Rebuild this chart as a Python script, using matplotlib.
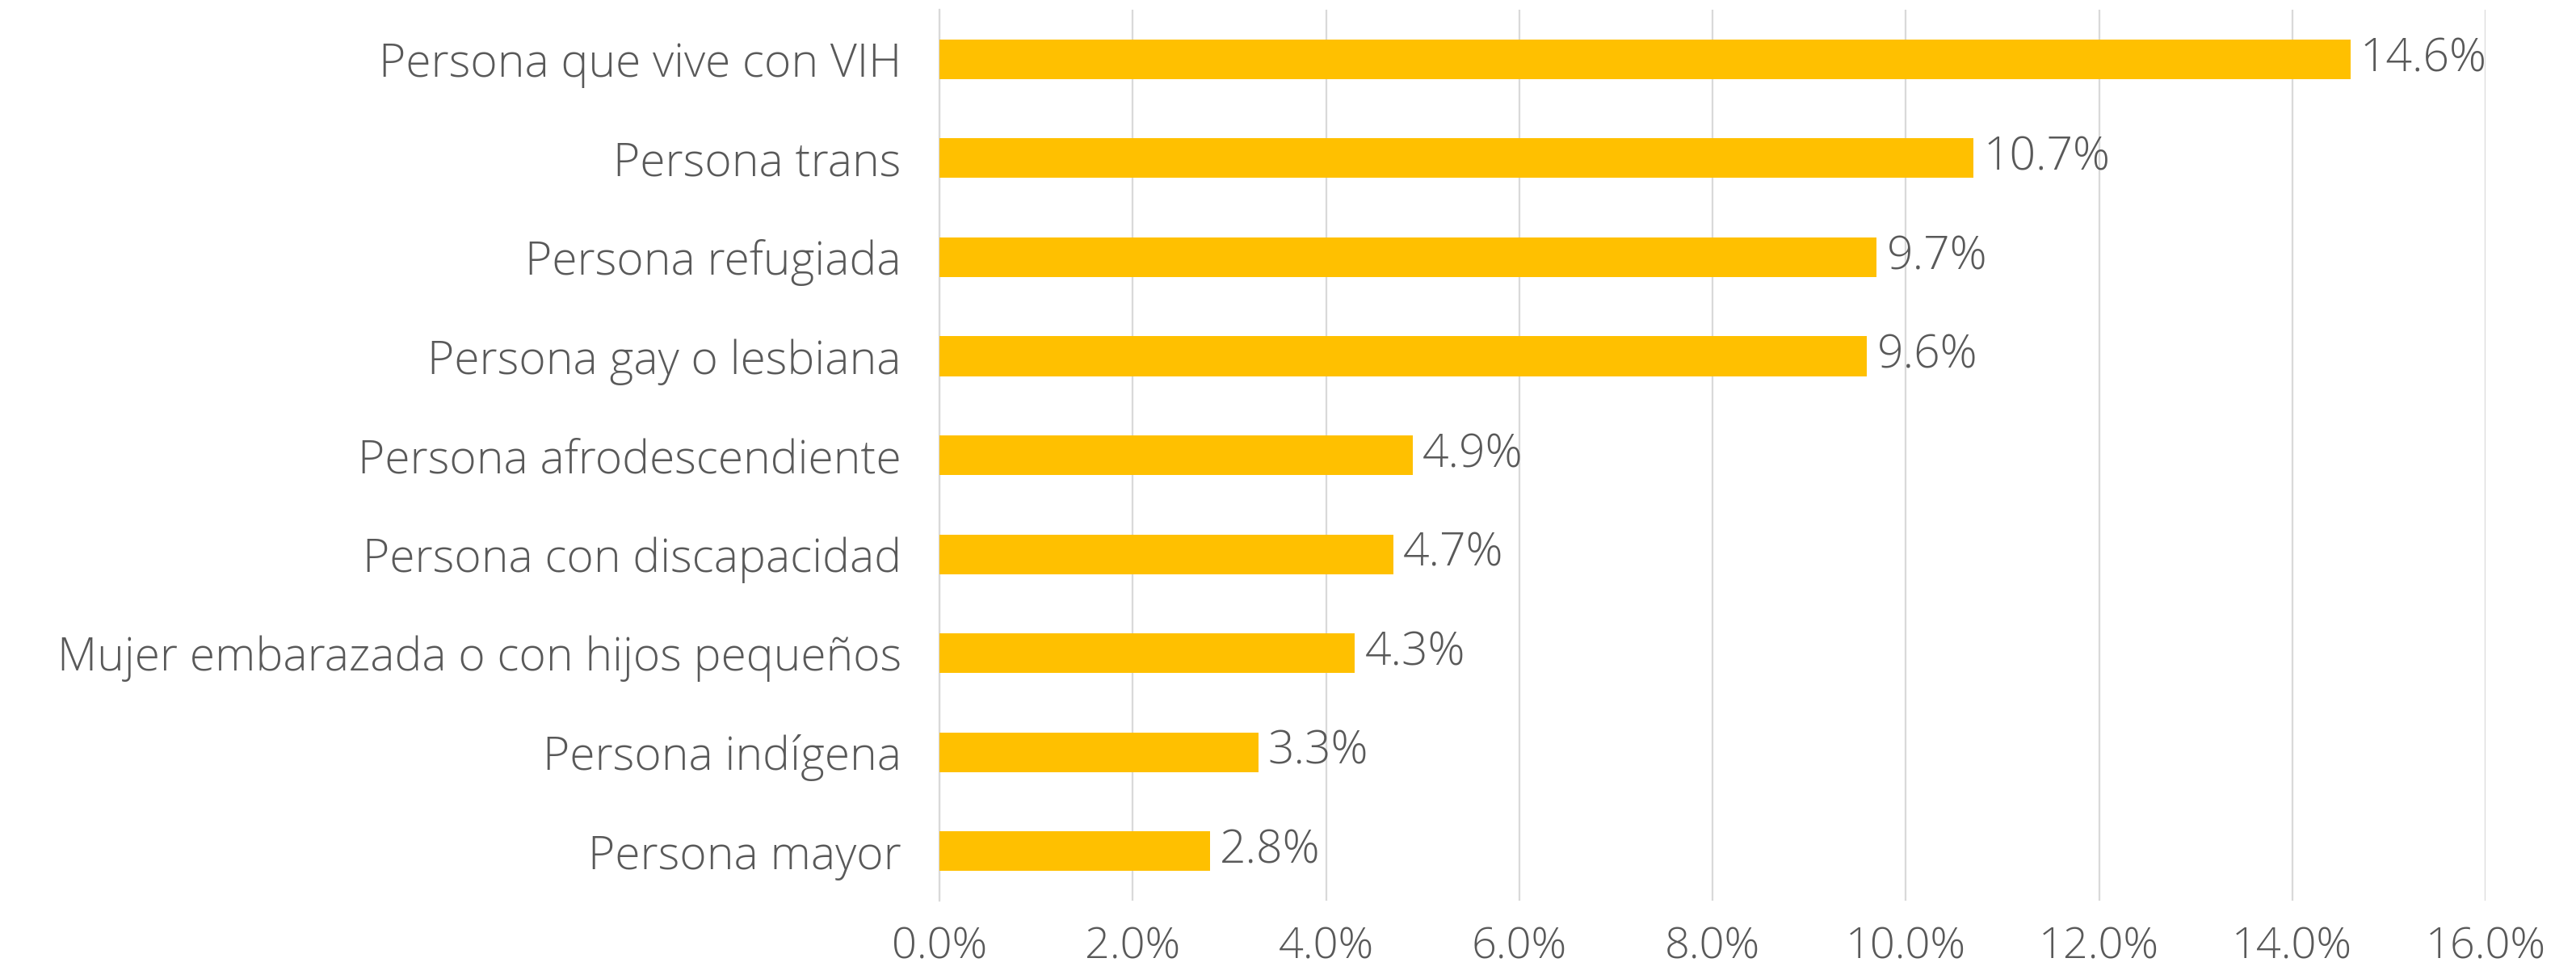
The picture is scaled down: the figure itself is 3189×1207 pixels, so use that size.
import numpy as np
import matplotlib
matplotlib.use("Agg")
import matplotlib.pyplot as plt
from matplotlib.ticker import FuncFormatter

categories = ["Persona que vive con VIH", "Persona trans", "Persona refugiada",
              "Persona gay o lesbiana", "Persona afrodescendiente",
              "Persona con discapacidad", "Mujer embarazada o con hijos pequeños",
              "Persona indígena", "Persona mayor"]
values = [14.6, 10.7, 9.7, 9.6, 4.9, 4.7, 4.3, 3.3, 2.8]
xticks = [0, 2, 4, 6, 8, 10, 12, 14, 16]

BAR = "#FFC000"
TXT = "#595959"
GRID = "#D9D9D9"
FS = 20.5

plt.rcParams["font.family"] = ["Open Sans", "DejaVu Sans"]

fig = plt.figure(figsize=(15.945, 6.035), dpi=200)
ax = fig.add_axes([0.3647, 0.0762, 0.6002, 0.9138])

y = np.arange(len(categories))
ax.barh(y, values, height=0.4, color=BAR, zorder=3)
for yi, v in zip(y, values):
    ax.text(v + 0.1, yi, f"{v:.1f}%", va="center", ha="left",
            fontsize=FS, color=TXT, fontweight="light")

ax.set_ylim(len(categories) - 0.5, -0.5)
ax.set_xlim(0, 16)
ax.set_xticks(xticks)
ax.xaxis.set_major_formatter(FuncFormatter(lambda v, p: f"{v:.1f}%"))
ax.set_yticks(y)
ax.set_yticklabels(categories)
ax.tick_params(axis="both", length=0, labelcolor=TXT)
ax.tick_params(axis="y", pad=17, labelsize=FS)
ax.tick_params(axis="x", pad=11, labelsize=19.5)
for lab in ax.get_xticklabels() + ax.get_yticklabels():
    lab.set_fontweight("light")
ax.grid(axis="x", color=GRID, linewidth=0.8, zorder=0)
for s in ["top", "right", "bottom"]:
    ax.spines[s].set_visible(False)
ax.spines["left"].set_color(GRID)
ax.spines["left"].set_linewidth(0.8)

fig.savefig("out.png", dpi=200)
